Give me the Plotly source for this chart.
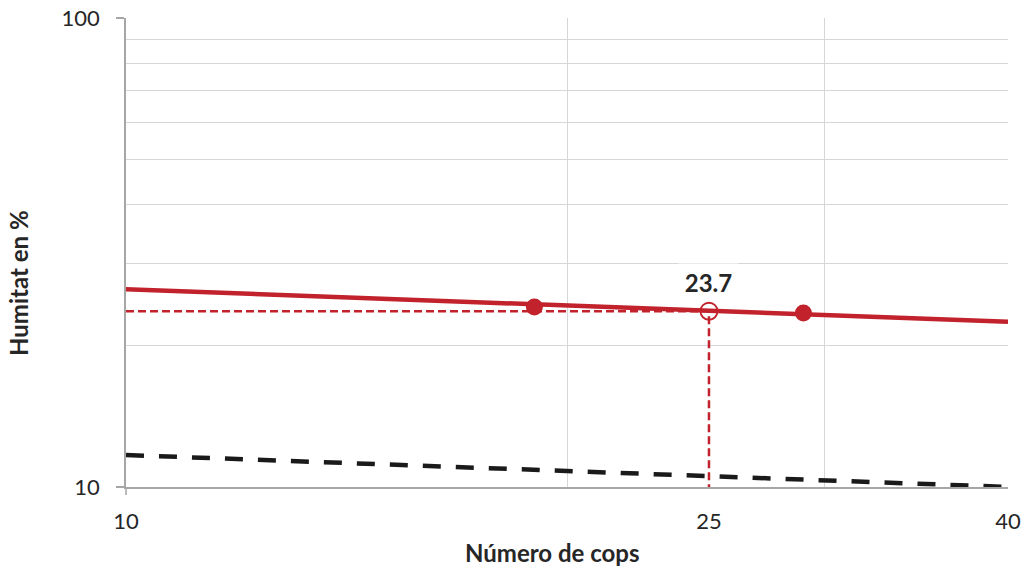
import numpy as np
import plotly.graph_objects as go

# Ensayo de Casagrande: humitat vs nombre de cops
cops = [19, 29]
humitat = [24.2, 23.5]

# Recta d'ajust (escala log-log) als extrems de l'eix
ajust_cops = [10, 40]
ajust_hum = [26.4, 22.5]

# Línia de referència (discontínua negra)
ref_cops = [10, 40]
ref_hum = [11.7, 10.0]

# Límit líquid llegit a 25 cops
ll_cops = 25
ll_valor = 23.7

x_ticks = [10, 25, 40]
x_grid = [20, 30, 40]
y_ticks = [10, 100]
y_grid = [20, 30, 40, 50, 60, 70, 80, 90]

RED = "#C1222B"
GRID = "#D6D6D6"
AXIS = "#A6A6A6"
FONT = "Lato"

fig = go.Figure()

fig.add_trace(go.Scatter(
    x=ref_cops, y=ref_hum, mode="lines",
    line=dict(color="#1A1A1A", width=4.5, dash="18px,15px"),
    hoverinfo="skip"))

fig.add_trace(go.Scatter(
    x=ajust_cops, y=ajust_hum, mode="lines",
    line=dict(color=RED, width=4.5), hoverinfo="skip"))

# guies discontínues cap als eixos
fig.add_trace(go.Scatter(
    x=[ajust_cops[0], ll_cops, ll_cops], y=[ll_valor, ll_valor, ref_hum[1]],
    mode="lines", line=dict(color=RED, width=2.5, dash="8px,4px"),
    hoverinfo="skip"))

fig.add_trace(go.Scatter(
    x=cops, y=humitat, mode="markers",
    marker=dict(color=RED, size=17, line=dict(width=0))))

fig.add_trace(go.Scatter(
    x=[ll_cops], y=[ll_valor], mode="markers",
    marker=dict(color=RED, size=17, symbol="circle-open",
                line=dict(color=RED, width=1.8))))

fig.add_annotation(
    x=np.log10(ll_cops), y=np.log10(ll_valor), xref="x", yref="y",
    text=f"<b>{ll_valor}</b>", showarrow=False, yshift=29,
    font=dict(family=FONT, size=24, color="#262626"),
    bgcolor="white", width=57, height=34)

fig.add_annotation(
    x=-0.1213, y=0.435, xref="paper", yref="paper",
    xanchor="center", yanchor="middle",
    text="<b>Humitat en %</b>", textangle=-90, showarrow=False,
    font=dict(family=FONT, size=24, color="#262626"))

fig.add_annotation(
    x=0.483, y=-0.1386, xref="paper", yref="paper",
    xanchor="center", yanchor="middle",
    text="<b>Número de cops</b>", showarrow=False,
    font=dict(family=FONT, size=24, color="#262626"))

# marca de l'eix X a l'origen
fig.add_shape(type="line", xref="paper", x0=0, x1=0,
              yref="paper", ysizemode="pixel", yanchor=0, y0=0, y1=-8,
              line=dict(color=AXIS, width=1.5))

fig.update_xaxes(
    type="log", range=[1, np.log10(40)], automargin=False,
    tickvals=x_ticks, ticktext=[str(v) for v in x_ticks],
    ticks="", showgrid=False, showline=True, linecolor=AXIS, linewidth=1.5,
    tickfont=dict(family=FONT, size=22, color="#262626"),
    ticklabelstandoff=14,
    minor=dict(tickvals=x_grid, showgrid=True, gridcolor=GRID, gridwidth=1.3, ticks=""),
    zeroline=False)

fig.update_yaxes(
    type="log", range=[1, 2], automargin=False,
    tickvals=y_ticks, ticktext=[str(v) for v in y_ticks],
    ticks="outside", ticklen=8, tickcolor=AXIS, tickwidth=1.5,
    showgrid=True, gridcolor=GRID, gridwidth=1.3,
    showline=True, linecolor=AXIS, linewidth=1.5,
    tickfont=dict(family=FONT, size=22, color="#262626"),
    ticklabelstandoff=12,
    minor=dict(tickvals=y_grid, showgrid=True, gridcolor=GRID, gridwidth=1.3, ticks=""),
    zeroline=False)

fig.update_layout(
    width=1029, height=566,
    margin=dict(l=126, r=21, t=18, b=79),
    paper_bgcolor="white", plot_bgcolor="white",
    showlegend=False,
    font=dict(family=FONT))

fig.write_html("out.html")
